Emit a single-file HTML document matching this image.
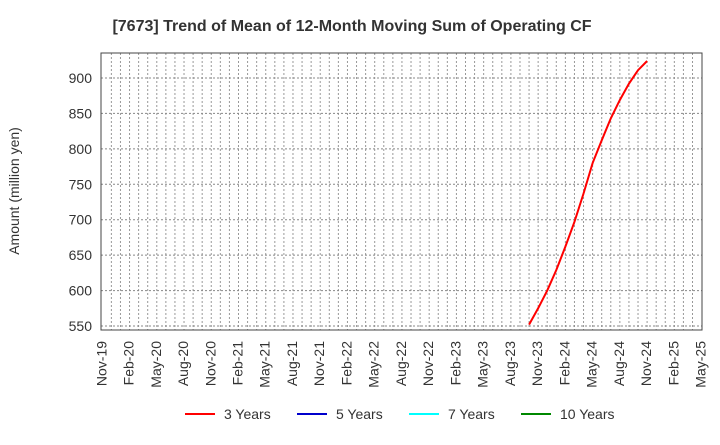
<!DOCTYPE html>
<html><head><meta charset="utf-8"><style>body{margin:0;background:#fff}svg{font-family:"Liberation Sans",Arial,sans-serif}</style></head>
<body>
<svg id="c" width="720" height="440">
<text x="352" y="31" text-anchor="middle" font-size="16" font-weight="bold" fill="#333">[7673]  Trend of Mean of 12-Month Moving Sum of Operating CF</text>
<text transform="translate(19,191) rotate(-90)" text-anchor="middle" font-size="14" fill="#333">Amount (million yen)</text>
<g id="grid"></g><g id="ticks"></g><g id="series"></g>
<rect x="101" y="53" width="601" height="277" fill="none" stroke="#444" stroke-width="1"/>
<g font-size="14" fill="#333">
<g><line x1="185" y1="414" x2="215" y2="414" stroke="#f00" stroke-width="2"/><text x="224" y="419">3 Years</text></g>
<g><line x1="297" y1="414" x2="327" y2="414" stroke="#00c" stroke-width="2"/><text x="336" y="419">5 Years</text></g>
<g><line x1="409" y1="414" x2="439" y2="414" stroke="#0ff" stroke-width="2"/><text x="448" y="419">7 Years</text></g>
<g><line x1="521" y1="414" x2="551" y2="414" stroke="#080" stroke-width="2"/><text x="560" y="419">10 Years</text></g>
</g>
</svg>
<script>
const xLabels=["Nov-19","Feb-20","May-20","Aug-20","Nov-20","Feb-21","May-21","Aug-21","Nov-21","Feb-22","May-22","Aug-22","Nov-22","Feb-23","May-23","Aug-23","Nov-23","Feb-24","May-24","Aug-24","Nov-24","Feb-25","May-25"];
const yTicks=[550,600,650,700,750,800,850,900];
const seriesStart=47; // month index of Oct-23
const series3y=[552,575,600,629,662,697,737,780,812,843,869,892,911,924];
const NS="http://www.w3.org/2000/svg";
const x=m=>102.3+m*9.08;
const y=v=>78+(900-v)*0.7086;
function mk(t,a,p){const e=document.createElementNS(NS,t);for(const k in a)e.setAttribute(k,a[k]);p.appendChild(e);return e;}
const g=document.getElementById('grid'),tk=document.getElementById('ticks'),s=document.getElementById('series');
for(let m=1;m<66;m++){const l=mk('line',{x1:x(m),x2:x(m),y1:53,y2:330,stroke:'#999','stroke-dasharray':'2,2','stroke-width':1},g);

}
yTicks.forEach(v=>{const l=mk('line',{x1:101,x2:702,y1:y(v),y2:y(v),stroke:'#888','stroke-dasharray':'2,2','stroke-width':1},g);


const t=mk('text',{x:92,y:y(v)+5,'text-anchor':'end','font-size':14,fill:'#333'},tk);t.textContent=v;

});
xLabels.forEach((lab,i)=>{const t=mk('text',{transform:`translate(${x(i*3)+4},341) rotate(-90)`,'text-anchor':'end','font-size':14,fill:'#333'},tk);t.textContent=lab;

});
const p=mk('polyline',{points:series3y.map((v,i)=>x(seriesStart+i)+','+y(v)).join(' '),fill:'none',stroke:'#f00','stroke-width':2},s);


</script>
</body></html>
